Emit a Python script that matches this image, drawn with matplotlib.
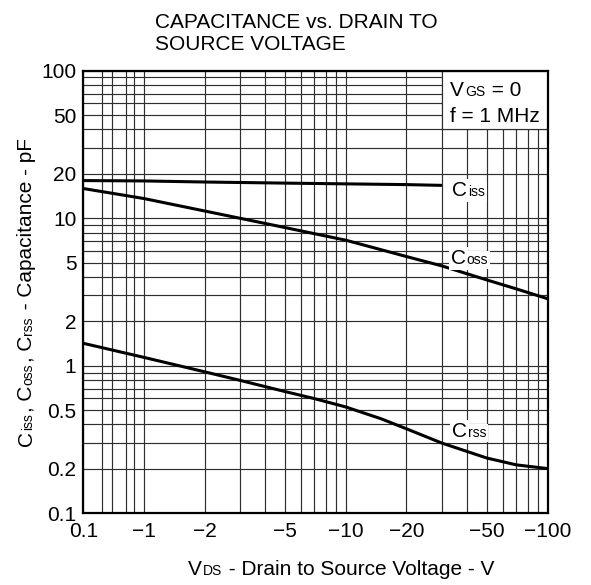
import numpy as np
import matplotlib
matplotlib.use("Agg")
import matplotlib.pyplot as plt
from matplotlib.patches import Rectangle
from matplotlib.transforms import IdentityTransform

plt.rcParams["font.family"] = ["Liberation Sans", "DejaVu Sans"]

# typical capacitance curves, x is |V_DS| in volts, y in pF
ciss_vds = [0.1, 1, 2, 5, 10, 20, 30]
ciss_pf = [18.0, 17.9, 17.6, 17.3, 17.1, 16.9, 16.7]

coss_vds = [0.1, 1, 2, 5, 10, 20, 30, 40, 50, 60, 70, 100]
coss_pf = [15.9, 13.6, 11.2, 8.65, 7.1, 5.5, 4.75, 4.2, 3.82, 3.54, 3.32, 2.85]

crss_vds = [0.1, 1, 2, 3, 5, 7, 10, 15, 20, 30, 50, 70, 100]
crss_pf = [1.42, 1.14, 0.91, 0.796, 0.669, 0.599, 0.526, 0.437, 0.374, 0.299, 0.237, 0.213, 0.201]

x_ticks = [0.1, 1, 2, 5, 10, 20, 50, 100]
x_tick_labels = ["0.1", "\u22121", "\u22122", "\u22125", "\u221210", "\u221220", "\u221250", "\u2212100"]
x_grid_minor = [0.2, 0.3, 0.5, 0.7, 3, 4, 6, 7, 8, 9, 30, 40, 60, 70, 80, 90]

y_ticks = [0.1, 0.2, 0.5, 1, 2, 5, 10, 20, 50, 100]
y_tick_labels = ["0.1", "0.2", "0.5", "1", "2", "5", "10", "20", "50", "100"]
y_grid_minor = [0.3, 0.4, 0.6, 0.7, 0.8, 0.9, 3, 4, 6, 7, 8, 9, 30, 40, 60, 70, 80, 90]

# where the curve names sit (data coords, left edge / baseline)
curve_labels = [("iss", 33.5, 14.2), ("oss", 33.2, 4.9), ("rss", 33.5, 0.33)]

FS = 15
FS_SUB = 10
GRID_COLOR = "#2e2e2e"

# the 0.1..1 V decade is squeezed on this chart
SQUEEZE = 0.3


def fwd(x):
    x = np.asarray(x, dtype=float)
    lx = np.log10(np.clip(x, 1e-9, None))
    return np.where(lx < 0, lx * SQUEEZE, lx)


def inv(t):
    t = np.asarray(t, dtype=float)
    return np.where(t < 0, 10 ** (t / SQUEEZE), 10 ** t)


def put_runs(fig, along, across, runs, rotation=0, center=False, gap=1.0, **kw):
    # lay out pieces of mixed-size text one after another (pixel coords)
    renderer = fig.canvas.get_renderer()
    items = []
    for s, size in runs:
        t = fig.text(0, 0, s, fontsize=size, transform=IdentityTransform(),
                     ha="left", va="baseline", rotation_mode="anchor", **kw)
        w = t.get_window_extent(renderer).width
        items.append((t, w))
    total = sum(w for _, w in items) + gap * (len(items) - 1)
    pos = along - total / 2 if center else along
    for t, w in items:
        if rotation == 90:
            t.set_position((across, pos))
            t.set_rotation(90)
        else:
            t.set_position((pos, across))
        pos += w + gap
    return items


fig = plt.figure(figsize=(5.91, 5.85), dpi=100)
W, H = 591, 585
ax = fig.add_axes([83.3 / W, 1 - 513.3 / H, (547.5 - 83.3) / W, (513.3 - 70.7) / H])

ax.set_xscale("function", functions=(fwd, inv))
ax.set_yscale("log")
ax.set_xlim(0.1, 100)
ax.set_ylim(0.1, 100)

ax.set_xticks(x_ticks)
ax.set_xticklabels(x_tick_labels)
ax.set_xticks(x_grid_minor, minor=True)
ax.set_yticks(y_ticks)
ax.set_yticklabels(y_tick_labels)
ax.set_yticks(y_grid_minor, minor=True)
ax.yaxis.set_minor_formatter(plt.NullFormatter())
ax.xaxis.set_minor_formatter(plt.NullFormatter())

ax.tick_params(which="both", length=0, labelsize=FS)
ax.tick_params(axis="x", pad=6)
ax.tick_params(axis="y", pad=5)
ax.set_axisbelow(True)
ax.grid(which="both", color=GRID_COLOR, linewidth=0.85)
for sp in ax.spines.values():
    sp.set_linewidth(1.6)
    sp.set_color("black")

ax.plot(ciss_vds, ciss_pf, color="black", linewidth=2.2, solid_capstyle="butt")
ax.plot(coss_vds, coss_pf, color="black", linewidth=2.2, solid_capstyle="butt")
ax.plot(crss_vds, crss_pf, color="black", linewidth=2.2, solid_capstyle="butt")

# white box for the test conditions in the upper right corner
ax.add_patch(Rectangle((30, 40), 70, 60, facecolor="white", edgecolor=GRID_COLOR,
                       linewidth=0.85, zorder=1))

fig.canvas.draw()

# test conditions
px = ax.transData.transform((33.0, 1))[0]
put_runs(fig, px, H - 96, [("V", FS), ("GS", FS_SUB), (" = 0", FS)])
put_runs(fig, px, H - 121.7, [("f = 1 MHz", FS)])

# curve names
box = dict(facecolor="white", edgecolor="none", pad=1.5)
for sub, lx, ly in curve_labels:
    dx, dy = ax.transData.transform((lx, ly))
    put_runs(fig, dx, dy, [("C", FS), (sub, FS_SUB)], bbox=box)

# axis titles
put_runs(fig, 341.5, 10, [("V", FS), ("DS", FS_SUB),
                          (" - Drain to Source Voltage - V", FS)], center=True)
put_runs(fig, H - 292, 32, [("C", FS), ("iss", FS_SUB), (", C", FS), ("oss", FS_SUB),
                            (", C", FS), ("rss", FS_SUB), (" - Capacitance - pF", FS)],
         rotation=90, center=True)

fig.text(155 / W, 1 - 50 / H, "CAPACITANCE vs. DRAIN TO\nSOURCE VOLTAGE",
         fontsize=FS, ha="left", va="baseline", linespacing=1.2)

fig.savefig("out.png", dpi=100)
